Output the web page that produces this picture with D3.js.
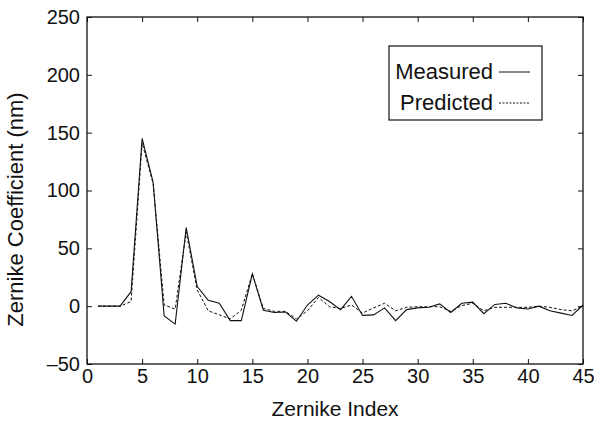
<!DOCTYPE html>
<html>
<head>
<meta charset="utf-8">
<script src="https://cdn.jsdelivr.net/npm/d3@7"></script>
<style>
  body { margin: 0; background: #fff; }
  text { font-family: "Liberation Sans", Arial, sans-serif; fill: #111; }
</style>
</head>
<body>
<div class="chart"></div>
<script>
const width = 594;
const height = 421;

// zernike index 1..45
const indices = d3.range(1, 46);
const measured = [0, 0, 0, 12.5, 145, 107, -8.5, -15.5, 68, 17,
  5, 2.5, -12.5, -12.5, 28, -3.5, -5.5, -5, -13, 1,
  9.5, 4, -3, 8.5, -8, -7.5, -1.5, -12.5, -3, -1.5,
  -1, 2, -5.5, 2.5, 3.5, -6.5, 1.5, 2.5, -1.5, -2.5,
  0, -4, -6, -8, 1];
const predicted = [0, 0, 0, 4, 141, 106, 1, -2.5, 64, 14,
  -4, -7.5, -11, -3.5, 28, -2, -4.5, -4.5, -11, -4,
  7.5, -0.5, -2, 1, -6, -1.5, 2.5, -4, -1, -0.5,
  -0.5, -0.5, -4.5, 0.5, 2.5, -4, -1, -1, -1, -1,
  0, -1, -3, -4, 0];
const xTicks = [0, 5, 10, 15, 20, 25, 30, 35, 40, 45];
const yTicks = [-50, 0, 50, 100, 150, 200, 250];
const seriesNames = ['Measured', 'Predicted'];

const margin = { top: 17, right: 11, bottom: 57, left: 87 };
const innerW = width - margin.left - margin.right;
const innerH = height - margin.top - margin.bottom;

const svg = d3
  .select('.chart')
  .append('svg')
  .attr('width', width)
  .attr('height', height)
  .append('g')
  .attr('transform', `translate(${margin.left}, ${margin.top})`);

const x = d3.scaleLinear().domain([0, 45]).range([0, innerW]);
const y = d3.scaleLinear().domain([-50, 250]).range([innerH, 0]);

const fmt = d => (d < 0 ? '\u2013' + Math.abs(d) : String(d));

// axes, ticks pointing inward like matlab
const axBottom = svg
  .append('g')
  .attr('transform', `translate(0, ${innerH})`)
  .call(d3.axisBottom(x).tickValues(xTicks).tickFormat(fmt).tickSizeInner(-5).tickSizeOuter(0).tickPadding(5));
const axTop = svg
  .append('g')
  .call(d3.axisTop(x).tickValues(xTicks).tickFormat('').tickSizeInner(-5).tickSizeOuter(0));
const axLeft = svg
  .append('g')
  .call(d3.axisLeft(y).tickValues(yTicks).tickFormat(fmt).tickSizeInner(-5).tickSizeOuter(0).tickPadding(7));
const axRight = svg
  .append('g')
  .attr('transform', `translate(${innerW}, 0)`)
  .call(d3.axisRight(y).tickValues(yTicks).tickFormat('').tickSizeInner(-5).tickSizeOuter(0));

[axBottom, axTop, axLeft, axRight].forEach(a => {
  a.select('.domain').remove();
  a.selectAll('line').attr('stroke', '#111').attr('stroke-width', 1);
  a.selectAll('text').style('font-size', '20px').attr('fill', '#111');
});

svg
  .append('rect')
  .attr('width', innerW)
  .attr('height', innerH)
  .attr('fill', 'none')
  .attr('stroke', '#111')
  .attr('stroke-width', 1.3);

const line = d3
  .line()
  .x((d, i) => x(indices[i]))
  .y(d => y(d));

svg
  .append('path')
  .datum(measured)
  .attr('d', line)
  .attr('fill', 'none')
  .attr('stroke', '#111')
  .attr('stroke-width', 1.1);

svg
  .append('path')
  .datum(predicted)
  .attr('d', line)
  .attr('fill', 'none')
  .attr('stroke', '#111')
  .attr('stroke-width', 1)
  .attr('stroke-dasharray', '3,2');

// axis titles
svg
  .append('text')
  .attr('x', innerW / 2)
  .attr('y', innerH + 52)
  .attr('text-anchor', 'middle')
  .style('font-size', '21px')
  .text('Zernike Index');

svg
  .append('text')
  .attr('transform', `translate(${-64}, ${innerH / 2 + 19}) rotate(-90)`)
  .attr('text-anchor', 'middle')
  .style('font-size', '22px')
  .text('Zernike Coefficient (nm)');

// legend
const legend = svg.append('g').attr('transform', `translate(${389 - margin.left}, ${46 - margin.top})`);
legend
  .append('rect')
  .attr('width', 153)
  .attr('height', 74)
  .attr('fill', '#fff')
  .attr('stroke', '#111')
  .attr('stroke-width', 1.2);

seriesNames.forEach((name, i) => {
  const cy = 26 + i * 31;
  legend
    .append('text')
    .attr('x', 104)
    .attr('y', cy + 7)
    .attr('text-anchor', 'end')
    .style('font-size', '22px')
    .text(name);
  legend
    .append('line')
    .attr('x1', 110)
    .attr('x2', 141)
    .attr('y1', cy)
    .attr('y2', cy)
    .attr('stroke', '#111')
    .attr('stroke-width', 1)
    .attr('stroke-dasharray', i === 1 ? '2,1.5' : null);
});
</script>
</body>
</html>
